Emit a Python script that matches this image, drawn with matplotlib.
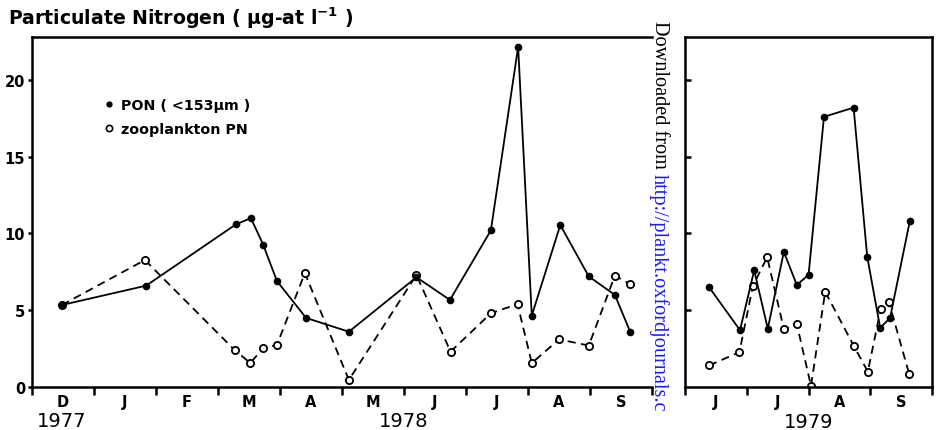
import matplotlib
matplotlib.use("Agg")
import matplotlib.pyplot as plt
from matplotlib.lines import Line2D

# ---- data (time in months; left panel from 1 Dec 1977, right panel from 1 Jun 1979) ----
t78 = [0.48, 1.84, 3.29, 3.53, 3.73, 3.95, 4.42, 5.11, 6.20, 6.74, 7.40, 7.84, 8.06, 8.52, 8.98, 9.40, 9.65]
pon78 = [5.34, 6.6, 10.6, 11.0, 9.25, 6.9, 4.5, 3.6, 7.15, 5.67, 10.2, 22.15, 4.65, 10.55, 7.2, 6.0, 3.57]

tz78 = [0.48, 1.82, 3.27, 3.52, 3.73, 3.95, 4.40, 5.11, 6.20, 6.75, 7.40, 7.83, 8.06, 8.50, 8.98, 9.40, 9.65]
zoo78 = [5.34, 8.27, 2.4, 1.56, 2.54, 2.74, 7.42, 0.46, 7.3, 2.3, 4.8, 5.4, 1.56, 3.1, 2.7, 7.25, 6.7]

t79 = [0.39, 0.89, 1.12, 1.34, 1.60, 1.81, 2.00, 2.25, 2.73, 2.95, 3.16, 3.32, 3.64]
pon79 = [6.5, 3.7, 7.6, 3.8, 8.8, 6.65, 7.3, 17.6, 18.2, 8.5, 3.85, 4.5, 10.8]

tz79 = [0.39, 0.88, 1.10, 1.33, 1.60, 1.81, 2.04, 2.27, 2.73, 2.96, 3.17, 3.30, 3.63]
zoo79 = [1.4, 2.27, 6.6, 8.45, 3.78, 4.1, 0.07, 6.2, 2.7, 1.0, 5.1, 5.55, 0.85]

months78 = ["D", "J", "F", "M", "A", "M", "J", "J", "A", "S"]
months79 = ["J", "J", "A", "S"]
yticks = [0, 5, 10, 15, 20]

title = "Particulate Nitrogen ( \u00b5g-at l$^{\\mathbf{-1}}$ )"
leg_pon = "PON ( <153\u00b5m )"
leg_zoo = "zooplankton PN"

# ---- figure ----
plt.rcParams['font.family'] = ['DejaVu Sans']
fig = plt.figure(figsize=(9.37, 4.31), dpi=100)
ax1 = fig.add_axes([0.0342, 0.0998, 0.6617, 0.812])
ax2 = fig.add_axes([0.7311, 0.0998, 0.2636, 0.812])

lw = 1.3
ms_f = 4.5
ms_o = 5.2
dash = (0, (4.5, 3))

for ax, t, p, tz, z in [(ax1, t78, pon78, tz78, zoo78), (ax2, t79, pon79, tz79, zoo79)]:
    ax.plot(tz, z, color='black', lw=lw, ls=dash, marker='o', ms=ms_o,
            mfc='white', mec='black', mew=1.3, zorder=2)
    ax.plot(t, p, color='black', lw=lw, ls='-', marker='o', ms=ms_f,
            mfc='black', mec='black', zorder=3)
    ax.set_ylim(0, 22.8)
    for s in ax.spines.values():
        s.set_linewidth(1.8)

# left panel
ax1.set_xlim(0, 10)
ax1.spines['right'].set_visible(False)
ax1.set_xticks(range(0, 11))
ax1.set_xticklabels([])
ax1.set_xticks([i + 0.5 for i in range(10)], minor=True)
ax1.set_xticklabels(months78, minor=True, fontsize=10.5, fontweight='bold')
ax1.tick_params(axis='x', which='major', direction='out', length=6, width=1.8)
ax1.tick_params(axis='x', which='minor', length=0, pad=5)
ax1.set_yticks(yticks)
ax1.set_yticklabels([str(v) for v in yticks], fontsize=10.5, fontweight='bold')
ax1.tick_params(axis='y', direction='out', length=3, width=1.8, pad=2)

# right panel
ax2.set_xlim(0, 4)
ax2.set_xticks(range(0, 5))
ax2.set_xticklabels([])
ax2.set_xticks([i + 0.5 for i in range(4)], minor=True)
ax2.set_xticklabels(months79, minor=True, fontsize=10.5, fontweight='bold')
ax2.tick_params(axis='x', which='major', direction='out', length=6, width=1.8)
ax2.tick_params(axis='x', which='minor', length=0, pad=5)
ax2.set_yticks(yticks[1:])
ax2.set_yticklabels([])
ax2.tick_params(axis='y', direction='in', length=4, width=1.8)

# year labels
ax1.text(0.047, -0.111, "1977", transform=ax1.transAxes, ha='center', va='baseline', fontsize=14)
ax1.text(0.60, -0.111, "1978", transform=ax1.transAxes, ha='center', va='baseline', fontsize=14)
ax2.text(0.50, -0.114, "1979", transform=ax2.transAxes, ha='center', va='baseline', fontsize=14)

# title
fig.text(0.009, 0.958, title, ha='left', va='center', fontsize=13.6, fontweight='bold')

# legend
handles = [Line2D([], [], ls='none', marker='o', ms=3.5, mfc='black', mec='black'),
           Line2D([], [], ls='none', marker='o', ms=4.5, mfc='white', mec='black', mew=1.2)]
leg = ax1.legend(handles, [leg_pon, leg_zoo], loc='upper left', bbox_to_anchor=(0.118, 0.825),
                 frameon=False, handlelength=0.6, handletextpad=0.5, labelspacing=0.7,
                 prop={'weight': 'bold', 'size': 10.3}, borderaxespad=0, borderpad=0)

# watermark (vertical, reading downward), as far as the reference shows it
wx = 0.7035
t1 = fig.text(wx, 0.952, "Downloaded from ", rotation=-90, ha='center', va='top',
              family='Liberation Serif', fontsize=14.6, color='black')
fig.canvas.draw()
bb = t1.get_window_extent(renderer=fig.canvas.get_renderer())
y_next = bb.y0 / fig.bbox.height
fig.text(wx, y_next, "http://plankt.oxfordjournals.c", rotation=-90, ha='center', va='top',
         family='Liberation Serif', fontsize=14.6, color='#1a1aff')

fig.savefig("out.png", dpi=100)
